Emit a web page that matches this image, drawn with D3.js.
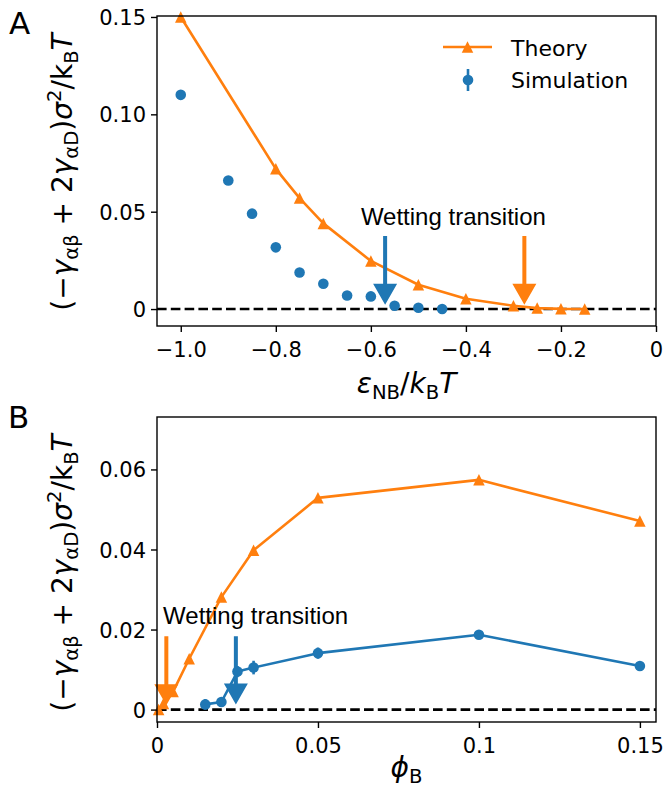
<!DOCTYPE html>
<html><head><meta charset="utf-8">
<script src="https://cdn.jsdelivr.net/npm/d3@7"></script>
<style>body{margin:0;background:#fff}svg{display:block}</style>
</head><body>
<svg id="c" width="663" height="789"></svg>
<script>
// ---------- Panel A data ----------
const theoryA_x = [-1.0, -0.8, -0.75, -0.7, -0.6, -0.5, -0.4, -0.3, -0.25, -0.2, -0.15];
const theoryA_y = [0.150, 0.072, 0.057, 0.044, 0.0247, 0.0125, 0.0053, 0.0017, 0.0005, 0.0001, 0.0];
const simA_x = [-1.0, -0.9, -0.85, -0.8, -0.75, -0.7, -0.65, -0.6, -0.55, -0.5, -0.45];
const simA_y = [0.110, 0.066, 0.049, 0.0317, 0.0188, 0.013, 0.007, 0.0065, 0.0017, 0.0007, 0.0];
const simA_err = [0.0006, 0.0014, 0.0014, 0.0006, 0.0005, 0.0005, 0.0005, 0.0005, 0.0005, 0.0005, 0.0005];
const arrowsA_x = [-0.57, -0.277];
const arrowsA_y0 = [0.0375, 0.0375];
const arrowsA_y1 = [0.0022, 0.0022];
const textA = {label: "Wetting transition", x: -0.621, y: 0.0434};
const ticksA_x = [-1.0, -0.8, -0.6, -0.4, -0.2, 0];
const tickLabelsA_x = ["\u22121.0", "\u22120.8", "\u22120.6", "\u22120.4", "\u22120.2", "0"];
const ticksA_y = [0, 0.05, 0.10, 0.15];
const tickLabelsA_y = ["0", "0.05", "0.10", "0.15"];

// ---------- Panel B data ----------
const theoryB_x = [0.0005, 0.002, 0.005, 0.01, 0.02, 0.03, 0.05, 0.1, 0.15];
const theoryB_y = [0.0, 0.0015, 0.0045, 0.0127, 0.0281, 0.0398, 0.0529, 0.0574, 0.0471];
const simB_x = [0.015, 0.02, 0.025, 0.03, 0.05, 0.1, 0.15];
const simB_y = [0.0013, 0.0019, 0.0095, 0.0105, 0.0141, 0.0187, 0.0109];
const simB_err = [0.0013, 0.0010, 0.0014, 0.0017, 0.0014, 0.0006, 0.0005];
const arrowsB_x = [0.0029, 0.0245];
const arrowsB_y0 = [0.0183, 0.0183];
const arrowsB_y1 = [0.0011, 0.0013];
const textB = {label: "Wetting transition", x: 0.0019, y: 0.0213};
const ticksB_x = [0, 0.05, 0.1, 0.15];
const tickLabelsB_x = ["0", "0.05", "0.1", "0.15"];
const ticksB_y = [0, 0.02, 0.04, 0.06];
const tickLabelsB_y = ["0", "0.02", "0.04", "0.06"];

const ORANGE = "#ff7f0e", BLUE = "#1f77b4";
const FONT = "DejaVu Sans, sans-serif";
const svg = d3.select("#c");

function mathText(sel, parts, size) {
  let cur = 0;
  parts.forEach(p => {
    const target = p.pos === "sub" ? size * 0.2 : p.pos === "sup" ? -size * 0.38 : 0;
    sel.append("tspan").text(p.t)
      .attr("dy", target - cur)
      .attr("font-size", p.pos ? size * 0.7 : size)
      .attr("font-style", p.it ? "italic" : "normal");
    cur = target;
  });
}

const yLabelParts = [
  {t: "(\u2212"}, {t: "\u03b3", it: 1}, {t: "\u03b1\u03b2", pos: "sub"},
  {t: " + 2"}, {t: "\u03b3", it: 1}, {t: "\u03b1D", pos: "sub"},
  {t: ")"}, {t: "\u03c3", it: 1}, {t: "2", pos: "sup"},
  {t: "/k"}, {t: "B", pos: "sub"}, {t: "T", it: 1}
];

function tri(cx, cy, s) {
  const h = s / 2;
  return `M${cx},${cy - h}L${cx + h},${cy + h}L${cx - h},${cy + h}Z`;
}
function arrowPath(x, y0, y1) {
  const sw = 2, hw = 12, hl = 21;
  return `M${x - sw},${y0}L${x + sw},${y0}L${x + sw},${y1 - hl}L${x + hw},${y1 - hl}L${x},${y1}L${x - hw},${y1 - hl}L${x - sw},${y1 - hl}Z`;
}

function panel(cfg) {
  const g = svg.append("g");
  const x = d3.scaleLinear().domain(cfg.xd).range([cfg.l, cfg.r]);
  const y = d3.scaleLinear().domain(cfg.yd).range([cfg.b, cfg.t]);

  // zero dashed line
  g.append("line").attr("x1", cfg.l).attr("x2", cfg.r).attr("y1", y(0)).attr("y2", y(0))
    .attr("stroke", "#000").attr("stroke-width", 2.6).attr("stroke-dasharray", "9.6,4.2");

  // theory
  const th = d3.zip(cfg.thx, cfg.thy);
  g.append("path").attr("d", d3.line().x(d => x(d[0])).y(d => y(d[1]))(th))
    .attr("fill", "none").attr("stroke", ORANGE).attr("stroke-width", 2.6).attr("stroke-linejoin", "round");
  g.selectAll(null).data(th).join("path").attr("d", d => tri(x(d[0]), y(d[1]), 11.5)).attr("fill", ORANGE);

  // simulation
  const sm = d3.zip(cfg.smx, cfg.smy, cfg.sme);
  if (cfg.simLine) {
    g.append("path").attr("d", d3.line().x(d => x(d[0])).y(d => y(d[1]))(sm))
      .attr("fill", "none").attr("stroke", BLUE).attr("stroke-width", 2.6).attr("stroke-linejoin", "round");
  }
  g.selectAll(null).data(sm).join("line")
    .attr("x1", d => x(d[0])).attr("x2", d => x(d[0]))
    .attr("y1", d => y(d[1] - d[2])).attr("y2", d => y(d[1] + d[2]))
    .attr("stroke", BLUE).attr("stroke-width", 2.6);
  g.selectAll(null).data(sm).join("circle")
    .attr("cx", d => x(d[0])).attr("cy", d => y(d[1])).attr("r", 5.3).attr("fill", BLUE);

  // arrows
  const ar = d3.zip(cfg.ax, cfg.ay0, cfg.ay1);
  ar.forEach((a, i) => {
    g.append("path").attr("d", arrowPath(x(a[0]), y(a[1]), y(a[2]))).attr("fill", cfg.arrowCols[i]);
  });

  // annotation
  g.append("text").attr("x", x(cfg.txt.x)).attr("y", y(cfg.txt.y))
    .attr("font-family", "Liberation Sans, Arial, sans-serif").attr("font-size", 24).text(cfg.txt.label);

  // frame
  g.append("rect").attr("x", cfg.l).attr("y", cfg.t).attr("width", cfg.r - cfg.l).attr("height", cfg.b - cfg.t)
    .attr("fill", "none").attr("stroke", "#000").attr("stroke-width", 1.4);

  // axes
  const xa = d3.axisBottom(x).tickValues(cfg.xt).tickFormat((d, i) => cfg.xtl[i]).tickSizeOuter(0).tickSize(6).tickPadding(5);
  const ya = d3.axisLeft(y).tickValues(cfg.yt).tickFormat((d, i) => cfg.ytl[i]).tickSizeOuter(0).tickSize(6).tickPadding(5);
  const gx = g.append("g").attr("transform", `translate(0,${cfg.b})`).call(xa);
  const gy = g.append("g").attr("transform", `translate(${cfg.l},0)`).call(ya);
  [gx, gy].forEach(a => {
    a.select(".domain").remove();
    a.selectAll("line").attr("stroke", "#000").attr("stroke-width", 1.4);
    a.selectAll("text").attr("font-family", FONT).attr("font-size", 21).attr("fill", "#000");
  });
  gy.selectAll("text").attr("dy", "0.36em");
  gx.selectAll("text").attr("dy", "0.95em");

  // y label
  const yl = g.append("text").attr("transform", `translate(${cfg.ylx},${cfg.yly}) rotate(-90)`)
    .attr("text-anchor", "middle").attr("font-family", FONT).attr("fill", "#000");
  mathText(yl, yLabelParts, 28);

  // x label
  const xl = g.append("text").attr("x", (cfg.l + cfg.r) / 2).attr("y", cfg.xly)
    .attr("text-anchor", "middle").attr("font-family", FONT).attr("fill", "#000");
  mathText(xl, cfg.xlabel, 28);

  // panel letter
  g.append("text").attr("x", cfg.lx).attr("y", cfg.ly).attr("font-family", FONT).attr("font-size", 31).text(cfg.letter);
  return {x, y, g};
}

panel({
  l: 157, r: 656, t: 16, b: 326, xd: [-1.05, 0], yd: [-0.0087, 0.1505],
  thx: theoryA_x, thy: theoryA_y, smx: simA_x, smy: simA_y, sme: simA_err, simLine: false,
  ax: arrowsA_x, ay0: arrowsA_y0, ay1: arrowsA_y1, arrowCols: [BLUE, ORANGE], txt: textA,
  xt: ticksA_x, xtl: tickLabelsA_x, yt: ticksA_y, ytl: tickLabelsA_y,
  ylx: 72, yly: 172, xly: 393,
  xlabel: [{t: "\u03b5", it: 1}, {t: "NB", pos: "sub"}, {t: "/"}, {t: "k", it: 1}, {t: "B", pos: "sub"}, {t: "T", it: 1}],
  letter: "A", lx: 9, ly: 34
});

panel({
  l: 157, r: 656, t: 417, b: 722, xd: [0, 0.155], yd: [-0.0031, 0.0731],
  thx: theoryB_x, thy: theoryB_y, smx: simB_x, smy: simB_y, sme: simB_err, simLine: true,
  ax: arrowsB_x, ay0: arrowsB_y0, ay1: arrowsB_y1, arrowCols: [ORANGE, BLUE], txt: textB,
  xt: ticksB_x, xtl: tickLabelsB_x, yt: ticksB_y, ytl: tickLabelsB_y,
  ylx: 72, yly: 573, xly: 777,
  xlabel: [{t: "\u03d5", it: 1}, {t: "B", pos: "sub"}],
  letter: "B", lx: 8, ly: 428
});

// legend (panel A)
const lg = svg.append("g");
lg.append("line").attr("x1", 443).attr("x2", 492).attr("y1", 47).attr("y2", 47).attr("stroke", ORANGE).attr("stroke-width", 2.6);
lg.append("path").attr("d", tri(467.5, 47, 11.5)).attr("fill", ORANGE);
lg.append("line").attr("x1", 468).attr("x2", 468).attr("y1", 69).attr("y2", 91).attr("stroke", BLUE).attr("stroke-width", 2.6);
lg.append("circle").attr("cx", 468).attr("cy", 80).attr("r", 5.3).attr("fill", BLUE);
lg.append("text").attr("x", 511).attr("y", 56).attr("font-family", FONT).attr("font-size", 22).text("Theory");
lg.append("text").attr("x", 511).attr("y", 88).attr("font-family", FONT).attr("font-size", 22).text("Simulation");
</script>
</body></html>
